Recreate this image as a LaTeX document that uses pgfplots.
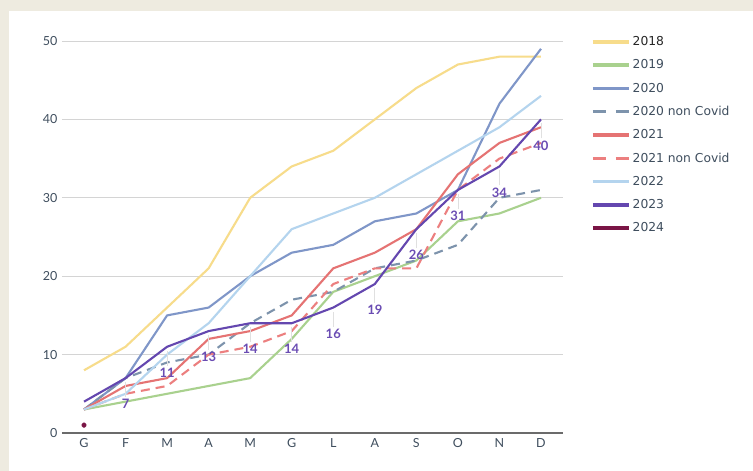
\documentclass[border=0pt]{standalone}
\usepackage{fontspec}
\setmainfont{DejaVu Sans}
\newfontfamily\latofont{Lato}
\usepackage{pgfplots}
\pgfplotsset{compat=1.18}
\definecolor{bgbeige}{HTML}{EEEBE0}
\definecolor{cA}{HTML}{F7DC8B}
\definecolor{cB}{HTML}{A9D18E}
\definecolor{cC}{HTML}{7F96C8}
\definecolor{cD}{HTML}{7D93AC}
\definecolor{cE}{HTML}{E57373}
\definecolor{cF}{HTML}{EC7F7F}
\definecolor{cG}{HTML}{B4D4EE}
\definecolor{cH}{HTML}{6447AF}
\definecolor{cI}{HTML}{7A1545}
\definecolor{lblc}{HTML}{6A4CB3}
\definecolor{txtc}{HTML}{3F4E5E}
\begin{document}
\begin{tikzpicture}[x=1pt,y=1pt]
\useasboundingbox (0,0) rectangle (753,471);
\fill[white] (0,0) rectangle (753,471);
\fill[bgbeige] (0,0) rectangle (9,471);
\fill[bgbeige] (0,460) rectangle (753,471);
\begin{axis}[
  at={(62pt,38pt)}, anchor=south west,
  scale only axis, width=501pt, height=392pt,
  xmin=-0.53, xmax=11.53, ymin=0, ymax=50,
  clip=false,
  axis line style={draw=none},
  xtick={0,...,11},
  xticklabels={G,F,M,A,M,G,L,A,S,O,N,D},
  ytick={0,10,20,30,40,50},
  ymajorgrids, grid style={color=black!17, line width=0.8pt},
  major tick length=0pt,
  tick label style={font=\latofont\fontsize{12.5}{14}\selectfont, text=txtc},
  /pgf/number format/assume math mode=true,
  xticklabel style={yshift=-2pt},
  yticklabel style={xshift=-1pt},
  legend style={at={(1.0559,1.017)}, anchor=north west, draw=none, fill=none,
    font=\fontsize{12.3}{14.5}\selectfont, text=txtc, row sep=8.6pt, inner sep=0pt,
    /tikz/every even column/.append style={column sep=0pt}},
  legend cell align=left,
  legend image code/.code={\draw[#1, line width=3.5pt] (0pt,0pt) -- (36pt,0pt);},
  every axis plot/.append style={line width=2.1pt, line join=round},
]
\draw[color=black!58, line width=1.4pt] (axis cs:-0.53,0) -- (axis cs:11.53,0);
\addplot[cA] coordinates {(0,8)(1,11)(2,16)(3,21)(4,30)(5,34)(6,36)(7,40)(8,44)(9,47)(10,48)(11,48)};
\addlegendentry{\textcolor{black!85}{2018}}
\addplot[cB] coordinates {(0,3)(1,4)(2,5)(3,6)(4,7)(5,12)(6,18)(7,20)(8,22)(9,27)(10,28)(11,30)};
\addlegendentry{2019}
\addplot[cC] coordinates {(0,3)(1,7)(2,15)(3,16)(4,20)(5,23)(6,24)(7,27)(8,28)(9,31)(10,42)(11,49)};
\addlegendentry{2020}
\addplot[cD, dash pattern=on 9pt off 6pt, legend image post style={dash pattern=on 13pt off 10pt}] coordinates {(0,3)(1,7)(2,9)(3,10)(4,14)(5,17)(6,18)(7,21)(8,22)(9,24)(10,30)(11,31)};
\addlegendentry{2020 non Covid}
\addplot[cE] coordinates {(0,3)(1,6)(2,7)(3,12)(4,13)(5,15)(6,21)(7,23)(8,26)(9,33)(10,37)(11,39)};
\addlegendentry{2021}
\addplot[cF, dash pattern=on 9pt off 6pt, legend image post style={dash pattern=on 13pt off 10pt}] coordinates {(0,3)(1,5)(2,6)(3,10)(4,11)(5,13)(6,19)(7,21)(8,21)(9,31)(10,35)(11,37)};
\addlegendentry{2021 non Covid}
\addplot[cG] coordinates {(0,3)(1,5)(2,10)(3,14)(4,20)(5,26)(6,28)(7,30)(8,33)(9,36)(10,39)(11,43)};
\addlegendentry{2022}
\addplot[cH] coordinates {(0,4)(1,7)(2,11)(3,13)(4,14)(5,14)(6,16)(7,19)(8,26)(9,31)(10,34)(11,40)};
\addlegendentry{2023}
\addplot[cI, mark=*, mark size=1.7pt] coordinates {(0,1)};
\addlegendentry{2024}
% leader lines
\addplot[draw=none, forget plot, nodes near coords={\textcolor{black!12}{\rule{0.8pt}{15pt}}},
  every node near coord/.style={anchor=north, inner sep=0pt, yshift=-3pt}]
  coordinates {(1,7)(2,11)(3,13)(4,14)(5,14)(6,16)(7,19)(8,26)(9,31)(10,34)(11,40)};
% value labels
\addplot[draw=none, forget plot, nodes near coords,
  every node near coord/.style={anchor=center, inner sep=0pt, yshift=-26pt,
    font=\latofont\bfseries\fontsize{13}{14}\selectfont, text=lblc}]
  coordinates {(1,7)(2,11)(3,13)(4,14)(5,14)(6,16)(7,19)(8,26)(9,31)(10,34)(11,40)};
\end{axis}
\end{tikzpicture}
\end{document}
